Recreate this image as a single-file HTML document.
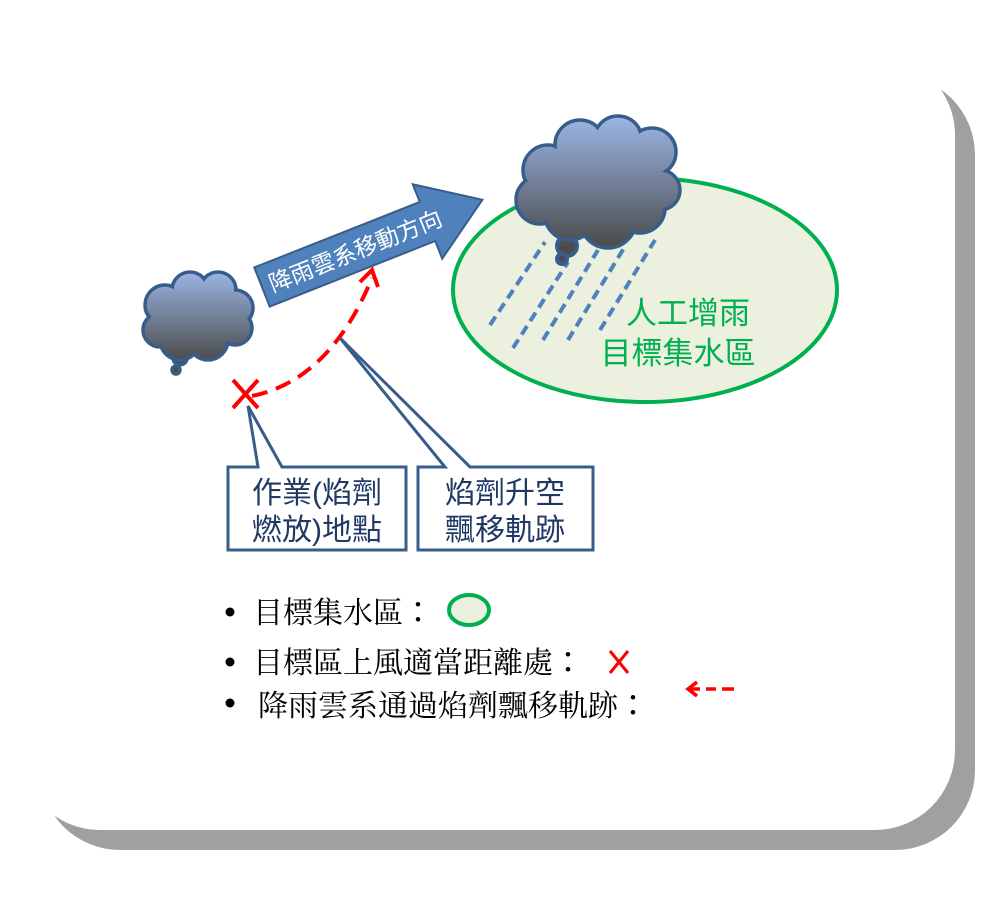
<!DOCTYPE html>
<html><head><meta charset="utf-8"><style>
html,body{margin:0;padding:0;background:#fff}
svg{display:block}
text{font-family:"Liberation Sans","Noto Sans CJK TC",sans-serif}
.serif{font-family:"Noto Serif CJK SC",serif}
.col{font-family:"Noto Sans CJK TC",sans-serif}
</style></head><body>
<svg width="1000" height="900" viewBox="0 0 1000 900" xmlns="http://www.w3.org/2000/svg">
<defs>
<linearGradient id="g1" gradientUnits="userSpaceOnUse" x1="0" y1="272" x2="0" y2="362"><stop offset="0" stop-color="#9ab5e4"/><stop offset="1" stop-color="#4a4a4a"/></linearGradient>
<linearGradient id="g2" gradientUnits="userSpaceOnUse" x1="0" y1="118" x2="0" y2="248"><stop offset="0" stop-color="#9ab5e4"/><stop offset="1" stop-color="#4a4a4a"/></linearGradient>
</defs>
<rect x="40" y="75" width="935" height="775" rx="80" fill="#a0a0a0"/>
<rect x="20" y="55" width="935" height="775" rx="80" fill="#fff"/>

<ellipse cx="645" cy="290" rx="192" ry="112" fill="#ebf1de" stroke="#00b050" stroke-width="4"/>

<g stroke="#4f81bd" stroke-width="4" stroke-dasharray="10,6">
<line x1="490" y1="325" x2="545" y2="242"/>
<line x1="513" y1="348" x2="568" y2="262"/>
<line x1="543" y1="340" x2="598" y2="250"/>
<line x1="568" y1="340" x2="624" y2="248"/>
<line x1="600" y1="330" x2="655" y2="240"/>
</g>
<text x="688" y="324" font-size="31" fill="#00b050" text-anchor="middle">人工增雨</text>
<text x="678" y="364" font-size="31" fill="#00b050" text-anchor="middle">目標集水區</text>

<g stroke="#385d8a" stroke-width="4" fill="url(#g2)">
<circle cx="567" cy="246" r="10"/><circle cx="562" cy="259" r="5"/>
</g>
<g stroke="#385d8a" stroke-width="3.5" fill="url(#g2)">
<circle cx="548" cy="170" r="25"/><circle cx="580" cy="145" r="25"/><circle cx="618" cy="140" r="24"/><circle cx="652" cy="152" r="24"/>
<circle cx="540" cy="200" r="24"/><circle cx="660" cy="190" r="20"/>
<circle cx="570" cy="215" r="25"/><circle cx="608" cy="220" r="28"/><circle cx="640" cy="208" r="25"/>
</g>
<g fill="url(#g2)">
<circle cx="548" cy="170" r="23"/><circle cx="580" cy="145" r="23"/><circle cx="618" cy="140" r="22"/><circle cx="652" cy="152" r="22"/>
<circle cx="540" cy="200" r="22"/><circle cx="660" cy="190" r="18"/>
<circle cx="570" cy="215" r="23"/><circle cx="608" cy="220" r="26"/><circle cx="640" cy="208" r="23"/>
<rect x="545" y="155" width="115" height="60"/>
</g>

<g stroke="#385d8a" stroke-width="3.5" fill="url(#g1)">
<circle cx="180" cy="358" r="7"/><circle cx="176" cy="370" r="4"/>
<circle cx="165" cy="305" r="20"/><circle cx="190" cy="290" r="18"/><circle cx="218" cy="290" r="18"/><circle cx="235" cy="308" r="18"/>
<circle cx="160" cy="330" r="17"/><circle cx="180" cy="340" r="20"/><circle cx="208" cy="340" r="20"/><circle cx="235" cy="328" r="17"/>
</g>
<g fill="url(#g1)">
<circle cx="165" cy="305" r="18"/><circle cx="190" cy="290" r="16"/><circle cx="218" cy="290" r="16"/><circle cx="235" cy="308" r="16"/>
<circle cx="160" cy="330" r="15"/><circle cx="180" cy="340" r="18"/><circle cx="208" cy="340" r="18"/><circle cx="235" cy="328" r="15"/>
<rect x="162" y="295" width="75" height="40"/>
</g>

<g transform="translate(262,287) rotate(-21.6)">
<path d="M0,-21 L178,-21 L178,-40 L237,0 L178,40 L178,21 L0,21 Z" fill="#4f81bd" stroke="#385d8a" stroke-width="2"/>
<text x="100" y="9" font-size="23" fill="#fff" text-anchor="middle">降雨雲系移動方向</text>
</g>

<path d="M252,396 Q330,380 372,278" fill="none" stroke="#ff0000" stroke-width="4" stroke-dasharray="16,9"/>
<polyline points="360,282 372,270 378,287" fill="none" stroke="#ff0000" stroke-width="4"/>
<g stroke="#ff0000" stroke-width="4"><line x1="233" y1="380" x2="258" y2="408"/><line x1="258" y1="380" x2="233" y2="408"/></g>

<path d="M228,467 L258,467 L248,406 L282,467 L406,467 L406,550 L228,550 Z" fill="#fff" stroke="#385d8a" stroke-width="3"/>
<path d="M418,467 L445,467 L340,338 L470,467 L593,467 L593,550 L418,550 Z" fill="#fff" stroke="#385d8a" stroke-width="3"/>
<text x="317" y="503" font-size="30" fill="#203864" text-anchor="middle">作業(焰劑</text>
<text x="317" y="540" font-size="30" fill="#203864" text-anchor="middle">燃放)地點</text>
<text x="505" y="503" font-size="30" fill="#203864" text-anchor="middle">焰劑升空</text>
<text x="505" y="540" font-size="30" fill="#203864" text-anchor="middle">飄移軌跡</text>

<g font-size="30" fill="#000">
<circle cx="230" cy="612" r="4.5"/><text x="253" y="623" class="serif">目標集水區<tspan class="col">：</tspan></text>
<circle cx="230" cy="662" r="4.5"/><text x="253" y="673" class="serif">目標區上風適當距離處<tspan class="col">：</tspan></text>
<circle cx="230" cy="703" r="4.5"/><text x="258" y="716" class="serif">降雨雲系通過焰劑飄移軌跡<tspan class="col">：</tspan></text>
</g>
<ellipse cx="469" cy="610" rx="20" ry="15" fill="#ebf1de" stroke="#00b050" stroke-width="4"/>
<g stroke="#ff0000" stroke-width="3"><line x1="610" y1="651" x2="628" y2="673"/><line x1="628" y1="651" x2="610" y2="673"/></g>
<g stroke="#ff0000" stroke-width="3.5"><line x1="688" y1="689" x2="700" y2="689"/><line x1="706" y1="689" x2="716" y2="689"/><line x1="722" y1="689" x2="734" y2="689"/>
<polyline points="697,682 688,689 697,696" fill="none"/></g>
</svg>
</body></html>
